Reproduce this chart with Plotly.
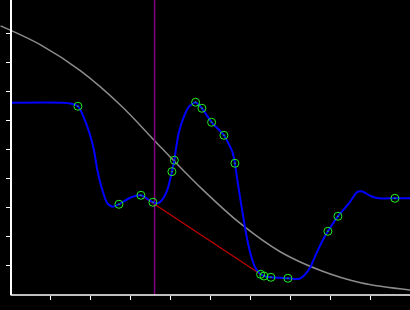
import plotly.graph_objects as go

# Gray reference curve
gray_x = [-0.25, 0.75, 1.75, 2.75, 3.75, 4.75, 5.75, 6.75, 7.75, 8.75, 10.0]
gray_y = [9.276, 8.621, 7.724, 6.541, 5.103, 3.703, 2.459, 1.483, 0.845, 0.424, 0.172]

# Blue smoothed curve
blue_x = [0.0, 1.3, 1.5, 1.683, 1.918, 2.083, 2.168, 2.293, 2.418, 2.543, 2.708, 3.0, 3.258, 3.425,
          3.558, 3.675, 3.775, 3.918, 4.033, 4.093, 4.138, 4.208, 4.333, 4.458, 4.625, 4.783, 5.025, 5.333,
          5.543, 5.608, 5.668, 5.918, 6.043, 6.125, 6.25, 6.333, 6.508, 6.933, 7.2, 7.35, 7.5, 7.65, 7.793,
          7.933, 8.183, 8.458, 8.668, 8.793, 9.0, 9.208, 9.608, 10.0]
blue_y = [6.631, 6.631, 6.600, 6.507, 5.803, 5.0, 4.310, 3.621, 3.162, 3.045, 3.128, 3.362, 3.438, 3.310,
          3.197, 3.162, 3.259, 3.621, 4.252, 4.645, 5.069, 5.621, 6.148, 6.493, 6.645, 6.438, 5.955, 5.507,
          4.941, 4.541, 3.966, 1.897, 1.207, 0.921, 0.714, 0.655, 0.610, 0.576, 0.552, 0.690, 0.976, 1.448, 1.862,
          2.197, 2.714, 3.162, 3.552, 3.569, 3.414, 3.334, 3.334, 3.334]

# Green sample points
pts_x = [1.683, 2.708, 3.258, 3.558, 4.033, 4.093, 4.625, 4.783, 5.025, 5.333, 5.608, 6.25, 6.333, 6.508, 6.933, 7.933, 8.183, 9.608]
pts_y = [6.507, 3.128, 3.438, 3.197, 4.252, 4.645, 6.645, 6.438, 5.955, 5.507, 4.541, 0.714, 0.655, 0.610, 0.576, 2.197, 2.714, 3.334]

# Red connection segment
red_x = [3.258, 6.25]
red_y = [3.438, 0.714]

# Purple cursor
cursor_x = 3.6

x_ticks = [1, 2, 3, 4, 5, 6, 7, 8, 9, 10]
y_ticks = [1, 2, 3, 4, 5, 6, 7, 8, 9]

X_RANGE = [-0.265, 9.985]
Y_RANGE = [0, 10.17]

fig = go.Figure()
fig.add_trace(go.Scatter(x=gray_x, y=gray_y, mode="lines",
                         line=dict(color="#8c8c8c", width=1.5, shape="spline", smoothing=1), hoverinfo="skip"))
fig.add_trace(go.Scatter(x=red_x, y=red_y, mode="lines",
                         line=dict(color="#c00000", width=1.3), hoverinfo="skip"))
fig.add_trace(go.Scatter(x=[cursor_x, cursor_x], y=Y_RANGE, mode="lines",
                         line=dict(color="#800080", width=1.5), hoverinfo="skip"))
fig.add_trace(go.Scatter(x=blue_x, y=blue_y, mode="lines",
                         line=dict(color="#0000ff", width=2, shape="spline", smoothing=0.6), hoverinfo="skip"))
fig.add_trace(go.Scatter(x=pts_x, y=pts_y, mode="markers",
                         marker=dict(symbol="circle-dot", size=8, color="rgba(0,0,0,0)",
                                     line=dict(color="#22ee22", width=1)), hoverinfo="skip"))

# x axis line starting at the y axis
fig.add_shape(type="line", xref="x", yref="paper", x0=0, x1=X_RANGE[1], y0=0, y1=0,
              line=dict(color="white", width=1.5))

fig.update_layout(
    width=410, height=310,
    margin=dict(l=0, r=0, t=0, b=15, pad=0),
    paper_bgcolor="black", plot_bgcolor="black",
    showlegend=False,
    xaxis=dict(range=X_RANGE, tickvals=x_ticks, showticklabels=False, ticks="outside",
               ticklen=4, tickwidth=1, tickcolor="white", showgrid=False, zeroline=False,
               showline=False, fixedrange=True),
    yaxis=dict(range=Y_RANGE, tickvals=y_ticks, showticklabels=False, ticks="outside",
               ticklen=4, tickwidth=1, tickcolor="white", showgrid=False, zeroline=False,
               showline=True, linecolor="white", linewidth=1.5,
               anchor="free", position=10.7 / 410, fixedrange=True),
)

fig.write_html("out.html", config={"displayModeBar": False})
